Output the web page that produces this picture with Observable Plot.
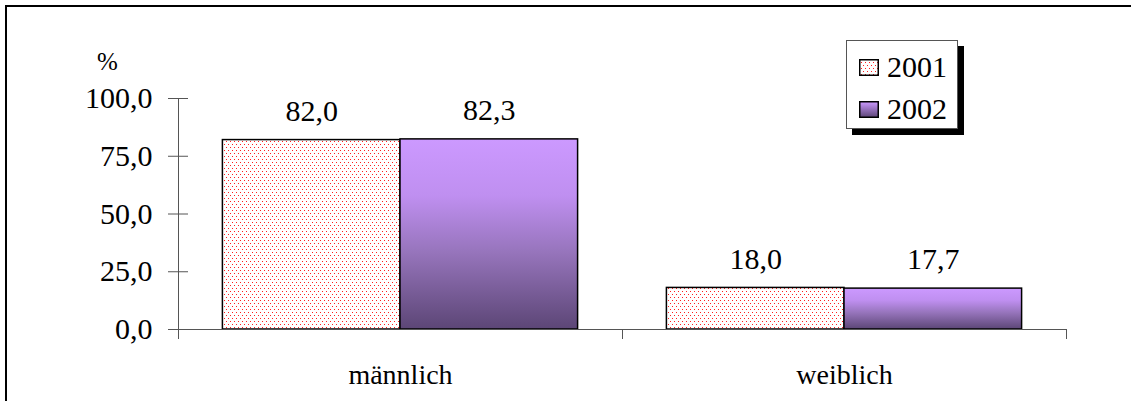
<!DOCTYPE html>
<html>
<head>
<meta charset="utf-8">
<script src="https://cdn.jsdelivr.net/npm/d3@7"></script>
<script src="https://cdn.jsdelivr.net/npm/@observablehq/plot@0.6"></script>
<style>
  html, body { margin: 0; padding: 0; background: #fff; }
  #wrap { position: relative; width: 1131px; height: 401px; overflow: hidden; font-family: "Liberation Serif", "DejaVu Serif", serif; }
  #frame { position: absolute; left: 5px; top: 5px; width: 1140px; height: 420px; border-left: 2px solid #000; border-top: 2px solid #000; box-sizing: border-box; }
  #chart { position: absolute; left: 0; top: 0; }
  #unit { position: absolute; left: 97px; top: 49px; font-size: 25px; line-height: 1; color: #000; }
  #legend { position: absolute; left: 846px; top: 40px; width: 112px; height: 89px; background: #fff; border: 1px solid #555; box-sizing: border-box; box-shadow: 6px 6px 0 #000; }
  .item { position: absolute; left: 12px; display: flex; align-items: center; font-size: 30px; line-height: 1; }
</style>
</head>
<body>
<div id="wrap">
  <div id="frame"></div>
  <div id="chart"></div>
  <div id="unit">%</div>
  <div id="legend">
    <div class="item" style="top:11px"><svg width="20" height="17" style="margin-right:8px"><rect x="0.75" y="0.75" width="18.5" height="15.5" fill="url(#dotsL)" stroke="#000" stroke-width="1.5"/></svg><span>2001</span></div>
    <div class="item" style="top:53px"><svg width="20" height="17" style="margin-right:8px"><rect x="0.75" y="0.75" width="18.5" height="15.5" fill="url(#gradL)" stroke="#000" stroke-width="1.5"/></svg><span>2002</span></div>
  </div>
</div>
<svg width="0" height="0" style="position:absolute">
  <defs>
    <pattern id="dotsL" width="4" height="6" patternUnits="userSpaceOnUse">
      <rect width="4" height="6" fill="#fff"/>
      <rect x="0" y="0" width="1" height="1" fill="#ff2020"/>
      <rect x="2" y="3" width="1" height="1" fill="#ff2020"/>
    </pattern>
    <linearGradient id="gradL" x1="0" y1="0" x2="0" y2="1">
      <stop offset="0" stop-color="#cc99ff"/>
      <stop offset="1" stop-color="#5c4676"/>
    </linearGradient>
  </defs>
</svg>
<script>
const categories = ["männlich", "weiblich"];
const years = ["2001", "2002"];
const values2001 = [82.0, 18.0];
const values2002 = [82.3, 17.7];
const yTicks = [0, 25, 50, 75, 100];

const rows = [];
categories.forEach((c, i) => {
  [values2001, values2002].forEach((vals, j) => {
    rows.push({category: c, ci: i, year: years[j], yi: j, value: vals[i]});
  });
});
// bar slot within each category band: 10% padding each side, two bars of 40%
rows.forEach(r => { r.x1 = r.ci + 0.1 + 0.4 * r.yi; r.x2 = r.x1 + 0.4; r.xm = (r.x1 + r.x2) / 2; });

const fmt = v => v.toFixed(1).replace(".", ",");
const font = '"Liberation Serif", "DejaVu Serif", serif';

const plot = Plot.plot({
  width: 1131,
  height: 401,
  marginLeft: 178,
  marginRight: 65,
  marginTop: 98,
  marginBottom: 72,
  style: {fontFamily: font, fontSize: "28px", color: "#000", background: "transparent"},
  x: {type: "linear", domain: [0, categories.length], axis: null},
  y: {domain: [0, 100], axis: null},
  marks: [
    Plot.rectY(rows.filter(d => d.year === "2001"), {x1: "x1", x2: "x2", y1: 0, y2: "value", fill: "url(#dots)", stroke: "#000", strokeWidth: 1.5}),
    Plot.rectY(rows.filter(d => d.year === "2002"), {x1: "x1", x2: "x2", y1: 0, y2: "value", fill: "url(#grad)", stroke: "#000", strokeWidth: 1.5}),
    Plot.ruleY([0], {x1: -10 / 444, x2: categories.length, stroke: "#555", strokeWidth: 1}),
    Plot.ruleX([0], {y1: 0, y2: 100, stroke: "#555", strokeWidth: 1}),
    Plot.axisY({ticks: yTicks, tickSize: 20, dx: 10, tickPadding: 16, tickFormat: fmt, stroke: "#555", fontSize: 30, label: null}),
    Plot.axisX({ticks: d3.range(categories.length + 1), tickSize: 10, tickFormat: () => "", stroke: "#555", label: null}),
    Plot.axisX({ticks: categories.map((c, i) => i + 0.5), tickSize: 0, tickPadding: 35, tickFormat: (t) => categories[Math.floor(t)], fontSize: 28, label: null}),
    Plot.text(rows, {x: "xm", y: "value", text: d => fmt(d.value), dy: -29, fontSize: 30, fill: "#000"})
  ]
});

// add the pattern and gradient definitions used by the bars
const svg = d3.select(plot);
const defs = svg.insert("defs", ":first-child");
const pat = defs.append("pattern").attr("id", "dots").attr("width", 4).attr("height", 6).attr("patternUnits", "userSpaceOnUse");
pat.append("rect").attr("width", 4).attr("height", 6).attr("fill", "#fff");
pat.append("rect").attr("x", 0).attr("y", 0).attr("width", 1).attr("height", 1).attr("fill", "#ff2020");
pat.append("rect").attr("x", 2).attr("y", 3).attr("width", 1).attr("height", 1).attr("fill", "#ff2020");
const grad = defs.append("linearGradient").attr("id", "grad").attr("x1", 0).attr("y1", 0).attr("x2", 0).attr("y2", 1);
[[0, "#cc99ff"], [0.3, "#bf8ff0"], [0.6, "#9674bb"], [1, "#5c4676"]].forEach(([o, c]) => grad.append("stop").attr("offset", o).attr("stop-color", c));

document.getElementById("chart").appendChild(plot);
</script>
</body>
</html>
